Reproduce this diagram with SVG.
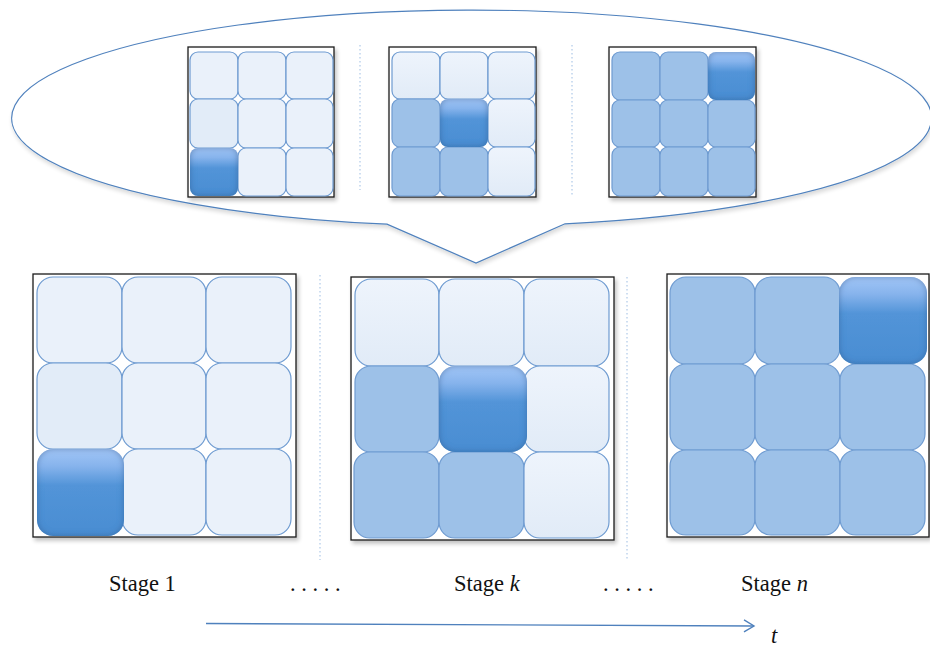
<svg xmlns="http://www.w3.org/2000/svg" width="930" height="650" viewBox="0 0 930 650">
<style>
.frame{fill:#ffffff;stroke:#1a1a1a;stroke-width:1.3;filter:url(#shadow)}
.lt{fill:#eaf1fa;stroke:#6e9bd1;stroke-width:1.2}
.lt2{fill:#e2ecf8;stroke:#6e9bd1;stroke-width:1.2}
.lg{fill:url(#lightGrad);stroke:#6e9bd1;stroke-width:1.2}
.md{fill:#9dc1e8;stroke:#6e9bd1;stroke-width:1.2}
.dk{fill:url(#darkGrad);filter:url(#inner)}
.sep{stroke:#9dbde3;stroke-width:1;stroke-dasharray:1.5 2.5;fill:none}
.lbl{font-family:"Liberation Serif","Times New Roman",serif;font-size:22.5px;fill:#111111}
</style>
<defs>
<linearGradient id="darkGrad" x1="0" y1="0" x2="0" y2="1">
<stop offset="0" stop-color="#a2c6f7"/>
<stop offset="0.2" stop-color="#86b3ec"/>
<stop offset="0.42" stop-color="#5294d8"/>
<stop offset="1" stop-color="#4a8dd2"/>
</linearGradient>
<linearGradient id="lightGrad" x1="0" y1="0" x2="0" y2="1">
<stop offset="0" stop-color="#eef4fc"/>
<stop offset="1" stop-color="#e1ebf7"/>
</linearGradient>
<filter id="shadow" x="-5%" y="-5%" width="115%" height="115%">
<feGaussianBlur in="SourceAlpha" stdDeviation="2"/>
<feOffset dx="2" dy="3" result="b"/>
<feComponentTransfer><feFuncA type="linear" slope="0.25"/></feComponentTransfer>
<feMerge><feMergeNode/><feMergeNode in="SourceGraphic"/></feMerge>
</filter>
<filter id="inner" x="-10%" y="-10%" width="120%" height="120%">
<feGaussianBlur in="SourceAlpha" stdDeviation="3" result="blur"/>
<feComposite in="SourceAlpha" in2="blur" operator="out" result="edge"/>
<feFlood flood-color="#2f5f96" flood-opacity="0.75"/>
<feComposite in2="edge" operator="in" result="sh"/>
<feMerge><feMergeNode in="SourceGraphic"/><feMergeNode in="sh"/></feMerge>
</filter>
<filter id="soft" x="-5%" y="-5%" width="110%" height="115%">
<feGaussianBlur in="SourceAlpha" stdDeviation="2"/>
<feOffset dx="1" dy="3"/>
<feComponentTransfer><feFuncA type="linear" slope="0.15"/></feComponentTransfer>
<feMerge><feMergeNode/><feMergeNode in="SourceGraphic"/></feMerge>
</filter>
<marker id="arrow" markerWidth="14" markerHeight="14" refX="11" refY="7" orient="auto" markerUnits="userSpaceOnUse">
<polyline points="1,1 11,7 1,13" fill="none" stroke="#4f81bd" stroke-width="1.4"/>
</marker>
</defs>
<rect width="930" height="650" fill="#ffffff"/>

<g id="callout">
<path d="M 387 224.2 A 460 108 0 1 1 565 223.8 L 476 263 Z" fill="#ffffff" stroke="#4f81bd" stroke-width="1.2" filter="url(#soft)"/>
</g>

<g id="separators">
<line class="sep" x1="360" y1="45" x2="360" y2="190"/>
<line class="sep" x1="572" y1="45" x2="572" y2="195"/>
<line class="sep" x1="320" y1="275" x2="320" y2="560"/>
<line class="sep" x1="627" y1="277" x2="627" y2="560"/>
</g>

<g id="mini-stage-1">
<rect class="frame" x="188" y="47" width="146" height="150"/>
<rect class="lt" x="190" y="52" width="48" height="47" rx="8"/>
<rect class="lt" x="238" y="52" width="48" height="47" rx="8"/>
<rect class="lt" x="286" y="52" width="47" height="47" rx="8"/>
<rect class="lt2" x="190" y="99" width="48" height="49" rx="8"/>
<rect class="lt" x="238" y="99" width="48" height="49" rx="8"/>
<rect class="lt" x="286" y="99" width="47" height="49" rx="8"/>
<rect class="lt" x="238" y="148" width="48" height="48" rx="8"/>
<rect class="lt" x="286" y="148" width="47" height="48" rx="8"/>
<rect class="dk" x="190" y="148" width="48" height="48" rx="8"/>
</g>

<g id="mini-stage-k">
<rect class="frame" x="389" y="47" width="147" height="150"/>
<rect class="lg" x="392" y="52" width="48" height="47" rx="8"/>
<rect class="lg" x="440" y="52" width="48" height="47" rx="8"/>
<rect class="lg" x="488" y="52" width="47" height="47" rx="8"/>
<rect class="md" x="392" y="99" width="48" height="48" rx="8"/>
<rect class="lg" x="488" y="99" width="47" height="48" rx="8"/>
<rect class="md" x="392" y="147" width="48" height="49" rx="8"/>
<rect class="md" x="440" y="147" width="48" height="49" rx="8"/>
<rect class="lg" x="488" y="147" width="47" height="49" rx="8"/>
<rect class="dk" x="440" y="99" width="48" height="48" rx="8"/>
</g>

<g id="mini-stage-n">
<rect class="frame" x="609" y="47" width="147" height="150"/>
<rect class="md" x="612" y="52" width="48" height="48" rx="8"/>
<rect class="md" x="660" y="52" width="48" height="48" rx="8"/>
<rect class="md" x="612" y="100" width="48" height="47" rx="8"/>
<rect class="md" x="660" y="100" width="48" height="47" rx="8"/>
<rect class="md" x="708" y="100" width="47" height="47" rx="8"/>
<rect class="md" x="612" y="147" width="48" height="49" rx="8"/>
<rect class="md" x="660" y="147" width="48" height="49" rx="8"/>
<rect class="md" x="708" y="147" width="47" height="49" rx="8"/>
<rect class="dk" x="708" y="52" width="47" height="48" rx="8"/>
</g>

<g id="stage-1">
<rect class="frame" x="33" y="274" width="263" height="263"/>
<rect class="lt" x="37" y="277" width="85" height="86" rx="16"/>
<rect class="lt" x="122" y="277" width="84" height="86" rx="16"/>
<rect class="lt" x="206" y="277" width="85" height="86" rx="16"/>
<rect class="lt2" x="37" y="363" width="85" height="86" rx="16"/>
<rect class="lt" x="122" y="363" width="84" height="86" rx="16"/>
<rect class="lt" x="206" y="363" width="85" height="86" rx="16"/>
<rect class="lt" x="122" y="449" width="84" height="86" rx="16"/>
<rect class="lt" x="206" y="449" width="85" height="86" rx="16"/>
<rect class="dk" x="37" y="449" width="87" height="87" rx="16"/>
</g>

<g id="stage-k">
<rect class="frame" x="351" y="277" width="263" height="263"/>
<rect class="lg" x="355" y="279" width="84" height="87" rx="16"/>
<rect class="lg" x="439" y="279" width="85" height="87" rx="16"/>
<rect class="lg" x="524" y="279" width="85" height="87" rx="16"/>
<rect class="md" x="355" y="366" width="84" height="86" rx="16"/>
<rect class="lg" x="524" y="366" width="85" height="86" rx="16"/>
<rect class="md" x="354" y="452" width="85" height="86" rx="16"/>
<rect class="md" x="439" y="452" width="85" height="86" rx="16"/>
<rect class="lg" x="524" y="452" width="85" height="86" rx="16"/>
<rect class="dk" x="439" y="366" width="88" height="86" rx="16"/>
</g>

<g id="stage-n">
<rect class="frame" x="667" y="274" width="262" height="263"/>
<rect class="md" x="670" y="277" width="85" height="87" rx="16"/>
<rect class="md" x="755" y="277" width="85" height="87" rx="16"/>
<rect class="md" x="670" y="364" width="85" height="86" rx="16"/>
<rect class="md" x="755" y="364" width="85" height="86" rx="16"/>
<rect class="md" x="840" y="364" width="85" height="86" rx="16"/>
<rect class="md" x="670" y="450" width="85" height="85" rx="16"/>
<rect class="md" x="755" y="450" width="85" height="85" rx="16"/>
<rect class="md" x="840" y="450" width="85" height="85" rx="16"/>
<rect class="dk" x="839" y="277" width="88" height="87" rx="16"/>
</g>

<g id="labels">
<text class="lbl" x="109" y="591">Stage 1</text>
<text class="lbl" x="290" y="591">. . . . .</text>
<text class="lbl" x="454" y="591">Stage <tspan font-style="italic">k</tspan></text>
<text class="lbl" x="603" y="591">. . . . .</text>
<text class="lbl" x="741" y="591">Stage <tspan font-style="italic">n</tspan></text>
<text class="lbl" x="771" y="643" font-style="italic">t</text>
</g>

<g id="connectors">
<line x1="206" y1="623.5" x2="754" y2="626" stroke="#4f81bd" stroke-width="1.4" marker-end="url(#arrow)"/>
</g>
</svg>
